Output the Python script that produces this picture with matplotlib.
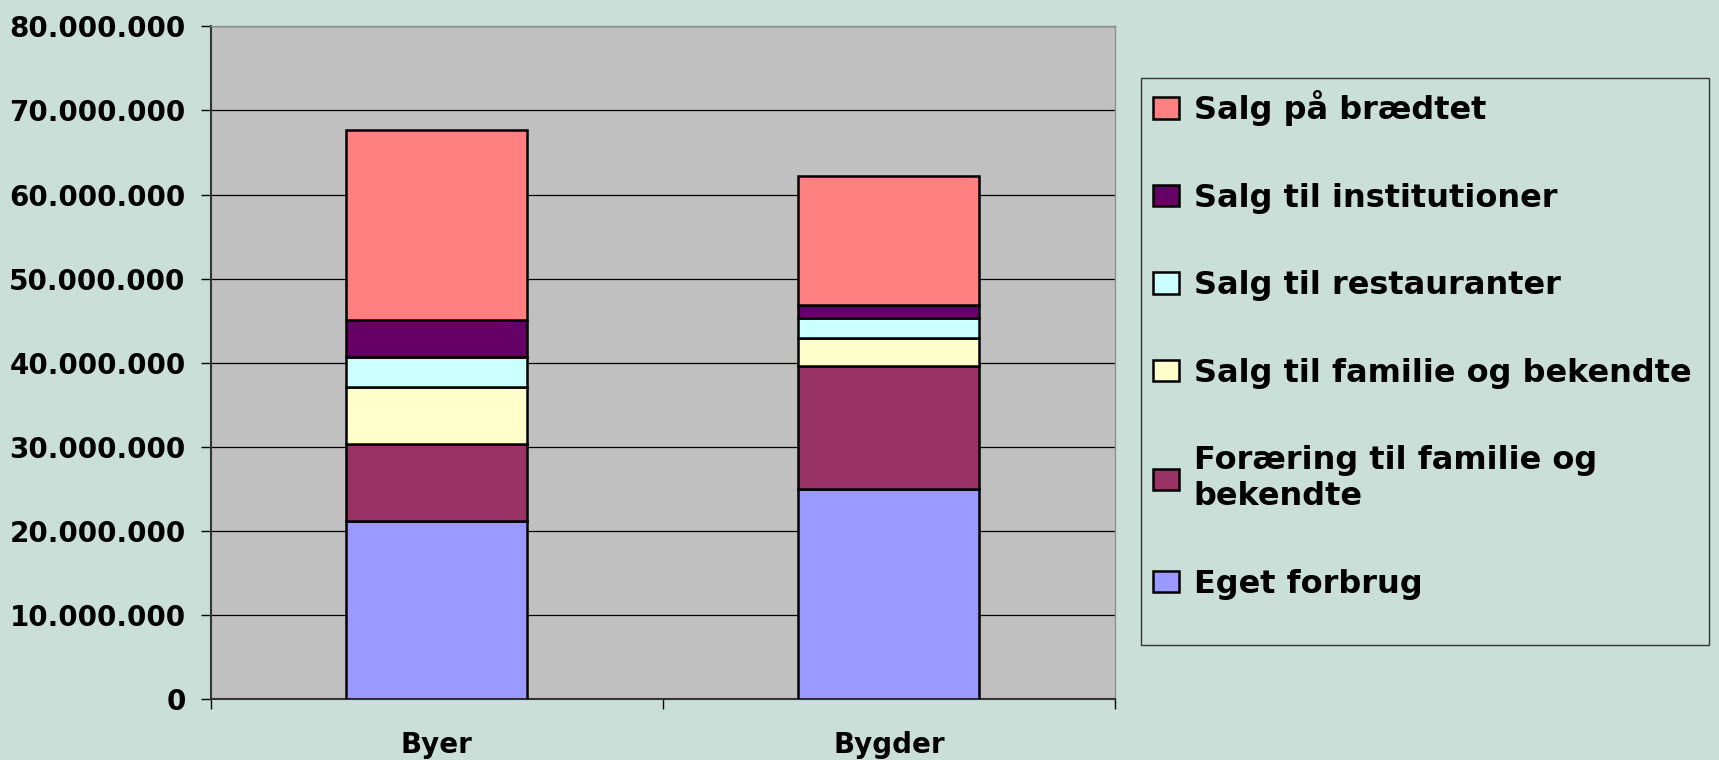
import matplotlib.pyplot as plt
from matplotlib.patches import Rectangle
from matplotlib.ticker import FuncFormatter
import numpy as np

# data
kategorier = ['Byer', 'Bygder']
serier = ['Eget forbrug', 'Foræring til familie og\nbekendte',
          'Salg til familie og bekendte', 'Salg til restauranter',
          'Salg til institutioner', 'Salg på brædtet']
eget = [21.2e6, 25.0e6]
foraering = [9.2e6, 14.6e6]
salg_familie = [6.7e6, 3.3e6]
salg_restaurant = [3.6e6, 2.4e6]
salg_institution = [4.4e6, 1.6e6]
salg_braedt = [22.6e6, 15.3e6]
farver = ['#9999FF', '#993366', '#FFFFCC', '#CCFFFF', '#660066', '#FF8080']

bg = '#C9DFD8'
plt.rcParams['font.family'] = 'DejaVu Sans'
plt.rcParams['font.weight'] = 'bold'

fig = plt.figure(figsize=(17.19, 7.6), dpi=100, facecolor=bg)
ax = fig.add_axes([0.1225, 0.0797, 0.5261, 0.8857])
ax.set_facecolor('#C0C0C0')

x = np.arange(len(kategorier))
bund = np.zeros(len(kategorier))
handles = []
for vals, navn, farve in zip([eget, foraering, salg_familie, salg_restaurant,
                              salg_institution, salg_braedt], serier, farver):
    b = ax.bar(x, vals, 0.4, bottom=bund, color=farve, edgecolor='black',
               linewidth=1.8, label=navn, zorder=3)
    handles.append(b)
    bund = bund + np.array(vals)

ax.set_xlim(-0.5, 1.5)
ax.set_ylim(0, 80e6)
ax.set_yticks(np.arange(0, 80e6 + 1, 10e6))
ax.yaxis.set_major_formatter(FuncFormatter(lambda v, p: f'{int(v):,}'.replace(',', '.')))
ax.yaxis.grid(True, color='black', linewidth=0.9, zorder=1)
ax.tick_params(axis='y', direction='out', length=7, width=1, pad=11, labelsize=20)

ax.set_xticks(x)
ax.set_xticklabels(kategorier, fontsize=20, fontweight='bold')
ax.set_xticks([-0.5, 0.5, 1.5], minor=True)
ax.tick_params(axis='x', which='major', length=0, pad=23)
ax.tick_params(axis='x', which='minor', direction='out', length=7, width=1)

for s in ['left', 'bottom']:
    ax.spines[s].set_color('#333333')
    ax.spines[s].set_linewidth(1.5)
for s in ['top', 'right']:
    ax.spines[s].set_color('#909090')
    ax.spines[s].set_linewidth(1)

# legend frame
fig.patches.append(Rectangle((1141 / 1719, 1 - 645 / 760), 568 / 1719, 567 / 760,
                             transform=fig.transFigure, facecolor='none',
                             edgecolor='#333333', linewidth=1))
leg = fig.legend(handles[::-1], serier[::-1], loc='upper left',
                 bbox_to_anchor=(1141 / 1719, 1 - 78 / 760), frameon=False,
                 prop={'size': 23, 'weight': 'bold'}, handlelength=0.82,
                 handleheight=0.66, handletextpad=0.45, labelspacing=1.77,
                 borderpad=0.38, borderaxespad=0)

fig.savefig('out.png', dpi=100, facecolor=bg)
